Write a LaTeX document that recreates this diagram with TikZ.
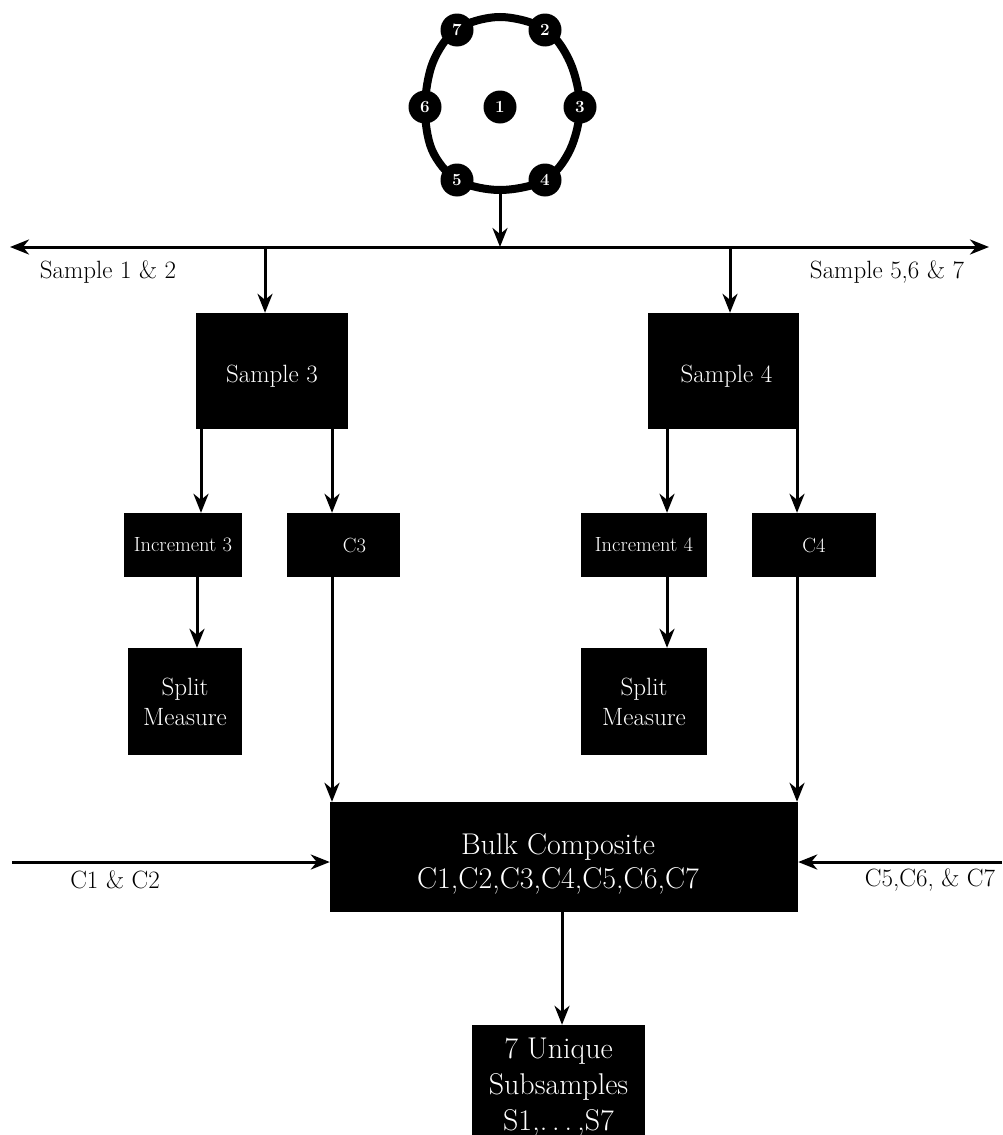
\documentclass[tikz,border=0pt]{standalone}
\usetikzlibrary{arrows.meta}
\newcommand{\lowerby}[2]{\raisebox{-#1}[\height][\depth]{#2}}
\begin{document}
\begin{tikzpicture}[x=1pt,y=-1pt,
  box/.style={fill=black,text=white,inner sep=0pt,align=center},
  arr/.style={line width=3pt,-{Stealth[length=19pt,width=15pt,inset=6pt]}},
  dot/.style={circle,fill=black,text=white,minimum size=33pt,inner sep=0pt,font=\fontsize{17}{17}\selectfont\bfseries},
  lbl/.style={inner sep=0pt,font=\fontsize{25}{30}\selectfont},
  fmid/.style={font=\fontsize{25}{30}\selectfont},
  fsmall/.style={font=\fontsize{20.5}{24}\selectfont},
  fbig/.style={font=\fontsize{30}{36}\selectfont}]
\useasboundingbox (0,0) rectangle (1002,1135);

% ring
\draw[line width=8pt] plot[smooth cycle, tension=0.55] coordinates
  {(500,17) (545,29) (570,62) (580,107) (570,150) (545,180) (500,190)
   (457,180) (432,150) (425,107) (433,62) (457,29)};
\node[dot] (n7) at (457,30) {7};
\node[dot] (n2) at (545,30) {2};
\node[dot] (n6) at (425,107) {6};
\node[dot] (n1) at (500,107) {1};
\node[dot] (n3) at (580,107) {3};
\node[dot] (n5) at (457,180) {5};
\node[dot] (n4) at (545,180) {4};

% bus
\coordinate (rb) at (500,193);
\coordinate (bj) at (500,247);
\coordinate (busL) at (10,247);
\coordinate (busR) at (989,247);
\draw[arr] (rb) -- (bj);
\draw[arr] (bj) -- (busL);
\draw[arr] (bj) -- (busR);
\node[lbl] (l12) at (108,272) {Sample 1 \& 2};
\node[lbl] (l567) at (887,272) {Sample 5,6 \& 7};

% boxes
\node[box,fmid,minimum width=152pt,minimum height=116pt] (s3) at (272,371) {\lowerby{5pt}{Sample 3}};
\node[box,fmid,minimum width=151pt,minimum height=116pt] (s4) at (723.5,371) {\lowerby{5pt}{\hspace*{6pt}Sample 4}};
\node[box,fsmall,minimum width=118pt,minimum height=64pt] (inc3) at (183,545) {Increment 3};
\node[box,fsmall,minimum width=113pt,minimum height=64pt] (c3) at (343.5,545) {\hspace*{22pt}C3};
\node[box,fsmall,minimum width=126pt,minimum height=64pt] (inc4) at (644,545) {Increment 4};
\node[box,fsmall,minimum width=124pt,minimum height=64pt] (c4) at (814,545) {C4};
\node[box,fmid,minimum width=114pt,minimum height=107pt] (sm3) at (185,701.5) {Split\\Measure};
\node[box,fmid,minimum width=126pt,minimum height=107pt] (sm4) at (644,701.5) {Split\\Measure};
\node[box,fbig,minimum width=468pt,minimum height=110pt] (bulk) at (564,857)
  {\lowerby{7pt}{\begin{tabular}{@{}c@{}}Bulk Composite\\[-2pt]C1,C2,C3,C4,C5,C6,C7\end{tabular}}\hspace*{12pt}};
\node[box,fbig,minimum width=173pt,minimum height=124pt] (uniq) at (558.5,1087) {7 Unique\\Subsamples\\S1,.\,.\,.\,,S7};

% x positions of vertical connectors
\coordinate (xs3) at (265,0);
\coordinate (xs4) at (730,0);
\coordinate (xa) at (201,0);
\coordinate (xb) at (332,0);
\coordinate (xc) at (197,0);
\coordinate (xd) at (667,0);
\coordinate (xe) at (797,0);
\coordinate (xf) at (562,0);

\draw[arr] (bj -| xs3) -- (s3.north -| xs3);
\draw[arr] (bj -| xs4) -- (s4.north -| xs4);
\draw[arr] (s3.south -| xa) -- (inc3.north -| xa);
\draw[arr] (s3.south -| xb) -- (c3.north -| xb);
\draw[arr] (inc3.south -| xc) -- (sm3.north -| xc);
\draw[arr] (c3.south -| xb) -- (bulk.north -| xb);
\draw[arr] (s4.south -| xd) -- (inc4.north -| xd);
\draw[arr] (s4.south -| xe) -- (c4.north -| xe);
\draw[arr] (inc4.south -| xd) -- (sm4.north -| xd);
\draw[arr] (c4.south -| xe) -- (bulk.north -| xe);
\draw[arr] (bulk.south -| xf) -- (uniq.north -| xf);

% side inputs
\coordinate (inL) at (12,862);
\coordinate (inR) at (1002,862);
\draw[arr] (inL) -- (inL -| bulk.west);
\draw[arr] (inR) -- (inR -| bulk.east);
\node[lbl] (lc12) at (115,880) {C1 \& C2};
\node[lbl] (lc567) at (930,880) {C5,C6, \& C7};
\end{tikzpicture}
\end{document}
